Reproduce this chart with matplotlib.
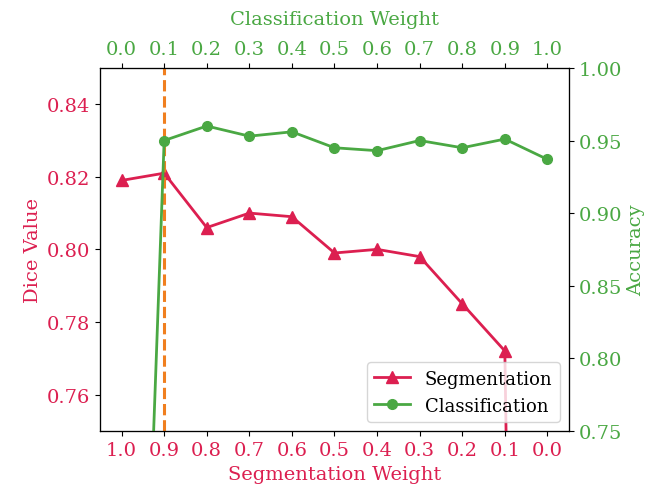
import numpy as np
import matplotlib.pyplot as plt

seg_weight = [1.0, 0.9, 0.8, 0.7, 0.6, 0.5, 0.4, 0.3, 0.2, 0.1, 0.0]
dice = [0.819, 0.821, 0.806, 0.810, 0.809, 0.799, 0.800, 0.798, 0.785, 0.772, 0.0]

cls_weight = [0.0, 0.1, 0.2, 0.3, 0.4, 0.5, 0.6, 0.7, 0.8, 0.9, 1.0]
accuracy = [0.14, 0.950, 0.960, 0.953, 0.956, 0.945, 0.943, 0.950, 0.945, 0.951, 0.937]

best_seg_weight = 0.9

red = '#dc1f50'
green = '#4aa843'

plt.rcParams['font.family'] = 'DejaVu Serif'
plt.rcParams['font.size'] = 14

fig, ax1 = plt.subplots(figsize=(6.47, 4.89), dpi=100)
fig.subplots_adjust(left=0.155, right=0.879, bottom=0.117, top=0.859)

l1, = ax1.plot(seg_weight, dice, color=red, marker='^', markersize=8, linewidth=2, label='Segmentation', zorder=3)
ax1.axvline(best_seg_weight, color='#f07f1f', linestyle='--', linewidth=2.2, zorder=4)
ax1.set_xlim(1.05, -0.05)
ax1.set_ylim(0.75, 0.85)
ax1.set_xticks(seg_weight)
ax1.set_xticklabels(['%.1f' % w for w in seg_weight])
ax1.set_yticks([0.76, 0.78, 0.80, 0.82, 0.84])
ax1.set_xlabel('Segmentation Weight', color=red, labelpad=5)
ax1.set_ylabel('Dice Value', color=red, labelpad=4)
ax1.tick_params(axis='both', color='black', labelcolor=red)

ax2 = ax1.twinx()
ax2.set_ylim(0.75, 1.0)
ax2.set_yticks([0.75, 0.80, 0.85, 0.90, 0.95, 1.00])
ax2.set_ylabel('Accuracy', color=green)
ax2.tick_params(axis='y', labelcolor=green, color='black')

ax3 = ax2.twiny()
l2, = ax3.plot(cls_weight, accuracy, color=green, marker='o', markersize=7, linewidth=2, label='Classification', zorder=2)
ax3.set_xlim(-0.05, 1.05)
ax3.set_xticks(cls_weight)
ax3.set_xticklabels(['%.1f' % w for w in cls_weight])
ax3.set_xlabel('Classification Weight', color=green, labelpad=12)
ax3.tick_params(axis='x', labelcolor=green, color='black')
ax3.set_ylim(0.75, 1.0)

ax3.legend([l1, l2], ['Segmentation', 'Classification'], loc='lower right', fontsize=13)

fig.savefig('out.png', dpi=100)
